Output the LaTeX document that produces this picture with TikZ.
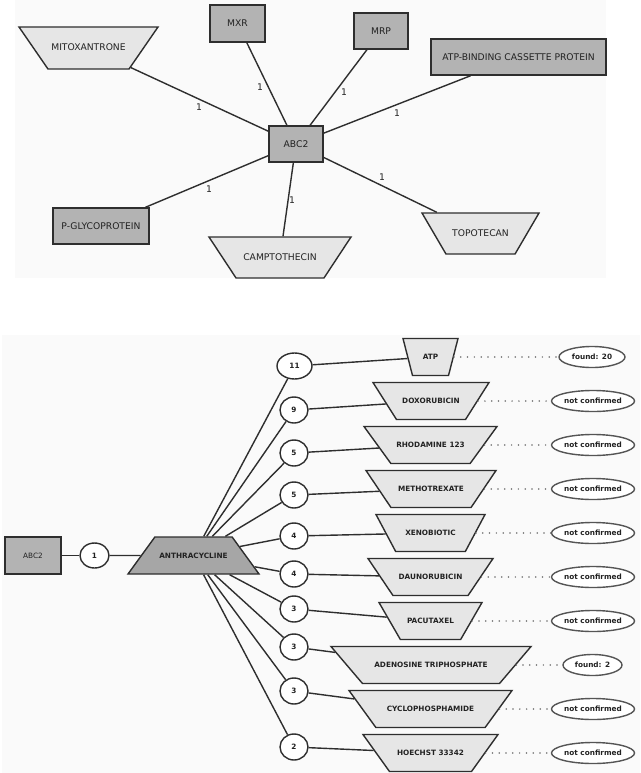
\documentclass[tikz,border=0pt]{standalone}
\usepackage{fontspec}
\setmainfont{DejaVu Sans}
\usetikzlibrary{shapes.geometric}
\definecolor{boxgray}{HTML}{B3B3B3}
\definecolor{trapgray}{HTML}{E6E6E6}
\definecolor{anthgray}{HTML}{A6A6A6}
\definecolor{linec}{HTML}{2E2E2E}
\definecolor{panelc}{HTML}{FAFAFA}
\definecolor{statc}{HTML}{555555}
\definecolor{txtc}{HTML}{222222}
\begin{document}
\begin{tikzpicture}[x=1pt,y=-1pt,
  every node/.style={text=txtc, inner sep=0pt},
  edge/.style={draw=linec, line width=1.4pt},
  dotline/.style={draw=statc!85, line width=1.7pt, line cap=round, dash pattern=on 0pt off 6.8pt},
  topfont/.style={font=\fontsize{9.2}{10}\selectfont},
  botfont/.style={font=\fontsize{7.3}{8}\selectfont\bfseries},
  topbox/.style={rectangle, draw=linec, line width=1.4pt, fill=boxgray, topfont},
  toptrap/.style={trapezium, shape border rotate=180, trapezium stretches body=true, draw=linec, line width=1.4pt, fill=trapgray, topfont, text height=7.5pt, text depth=2pt, inner xsep=2pt},
  lbl/.style={topfont},
  drug/.style={trapezium, shape border rotate=180, trapezium stretches body=true, draw=linec, line width=1.4pt, fill=trapgray, botfont, text height=6pt, text depth=1pt, inner ysep=15pt, inner xsep=2pt},
  cnt/.style={ellipse, draw=linec, line width=1.4pt, fill=white, minimum width=28pt, minimum height=26pt, botfont},
  status/.style={ellipse, draw=statc, line width=1.4pt, fill=white, minimum height=21pt, botfont}
]
\useasboundingbox (0,0) rectangle (640,773);
\fill[white] (0,0) rectangle (640,773);
\fill[panelc] (15,0) rectangle (606,278);
\fill[panelc] (2,335) rectangle (640,773);

% ---------- top panel ----------
\node[topbox, minimum width=54pt, minimum height=36pt] (abc) at (296,144) {ABC2};
\node[toptrap, minimum width=139pt, inner ysep=16.25pt, trapezium angle=55.4] (mito) at (88.5,48) {MITOXANTRONE};
\node[topbox, minimum width=55pt, minimum height=37pt] (mxr) at (237.5,23.5) {MXR};
\node[topbox, minimum width=54pt, minimum height=36pt] (mrp) at (381,31) {MRP};
\node[topbox, minimum width=175pt, minimum height=36pt] (atpb) at (518.5,57) {ATP-BINDING CASSETTE PROTEIN};
\node[topbox, minimum width=96pt, minimum height=36pt] (pgly) at (101,226) {P-GLYCOPROTEIN};
\node[toptrap, minimum width=142pt, inner ysep=15.75pt, trapezium angle=56.6] (campt) at (280,257.5) {CAMPTOTHECIN};
\node[toptrap, minimum width=117pt, inner ysep=15.75pt, trapezium angle=59.7] (topo) at (480.5,233.5) {TOPOTECAN};

\draw[edge] (mito) -- (abc);
\draw[edge] (mxr) -- (abc);
\draw[edge] (mrp) -- (abc);
\draw[edge] (atpb) -- (abc);
\draw[edge] (pgly) -- (abc);
\draw[edge] (campt) -- (abc);
\draw[edge] (topo) -- (abc);

\node[lbl] (l1) at (199,107) {1};
\node[lbl] (l2) at (260,87) {1};
\node[lbl] (l3) at (344,92) {1};
\node[lbl] (l4) at (397,113) {1};
\node[lbl] (l5) at (209,189) {1};
\node[lbl] (l6) at (292,200) {1};
\node[lbl] (l7) at (382,177) {1};

% ---------- bottom panel ----------
\node[rectangle, draw=linec, line width=1.4pt, fill=boxgray, minimum width=56pt, minimum height=37pt, font=\fontsize{7.3}{8}\selectfont] (abcb) at (33,555.5) {ABC2};
\node[cnt, minimum width=29pt, minimum height=25pt] (c1) at (94.5,555.5) {1};
\node[trapezium, trapezium stretches body=true, draw=linec, line width=1.4pt, fill=anthgray, minimum width=131pt, text height=6pt, text depth=1pt, inner ysep=15pt, inner xsep=2pt, trapezium angle=54, botfont] (anth) at (193.5,555.5) {ANTHRACYCLINE};
\draw[edge] (abcb) -- (c1);
\draw[edge] (c1) -- (anth);

% count ellipses
\node[cnt, minimum width=35pt] (n1) at (294.5,366) {11};
\node[cnt] (n2) at (294,410) {9};
\node[cnt] (n3) at (294,453) {5};
\node[cnt] (n4) at (294,495) {5};
\node[cnt] (n5) at (294,536) {4};
\node[cnt] (n6) at (294,574) {4};
\node[cnt] (n7) at (294,609) {3};
\node[cnt] (n8) at (294,647) {3};
\node[cnt] (n9) at (294,691) {3};
\node[cnt] (n10) at (294,747) {2};

% drug trapezoids
\node[drug, minimum width=55pt, trapezium angle=75.6] (d1) at (430.5,357) {ATP};
\node[drug, minimum width=116pt, trapezium angle=57.6] (d2) at (431,401) {DOXORUBICIN};
\node[drug, minimum width=133pt, trapezium angle=54] (d3) at (430.5,445) {RHODAMINE 123};
\node[drug, minimum width=130pt, trapezium angle=56] (d4) at (431,489) {METHOTREXATE};
\node[drug, minimum width=109pt, trapezium angle=62] (d5) at (430.5,533) {XENOBIOTIC};
\node[drug, minimum width=125pt, trapezium angle=56] (d6) at (430.5,577) {DAUNORUBICIN};
\node[drug, minimum width=103pt, trapezium angle=60] (d7) at (430.5,621) {PACUTAXEL};
\node[drug, minimum width=200pt, trapezium angle=49.6] (d8) at (431,665) {ADENOSINE TRIPHOSPHATE};
\node[drug, minimum width=163pt, trapezium angle=54] (d9) at (430.5,709) {CYCLOPHOSPHAMIDE};
\node[drug, minimum width=135pt, trapezium angle=54.4] (d10) at (430.5,753) {HOECHST 33342};

% status ellipses
\node[status, minimum width=66pt] (s1) at (592,357) {found: 20};
\node[status, minimum width=83pt] (s2) at (593,401) {not confirmed};
\node[status, minimum width=83pt] (s3) at (593,445) {not confirmed};
\node[status, minimum width=83pt] (s4) at (593,489) {not confirmed};
\node[status, minimum width=83pt] (s5) at (593,533) {not confirmed};
\node[status, minimum width=83pt] (s6) at (593,577) {not confirmed};
\node[status, minimum width=83pt] (s7) at (593,621) {not confirmed};
\node[status, minimum width=59pt] (s8) at (592.5,665) {found: 2};
\node[status, minimum width=83pt] (s9) at (593,709) {not confirmed};
\node[status, minimum width=83pt] (s10) at (593,753) {not confirmed};

\foreach \i in {1,...,10} {
  \draw[edge] (anth) -- (n\i);
  \draw[edge] (n\i) -- (d\i);
  \draw[dotline] (d\i) -- (s\i);
}
\end{tikzpicture}
\end{document}
